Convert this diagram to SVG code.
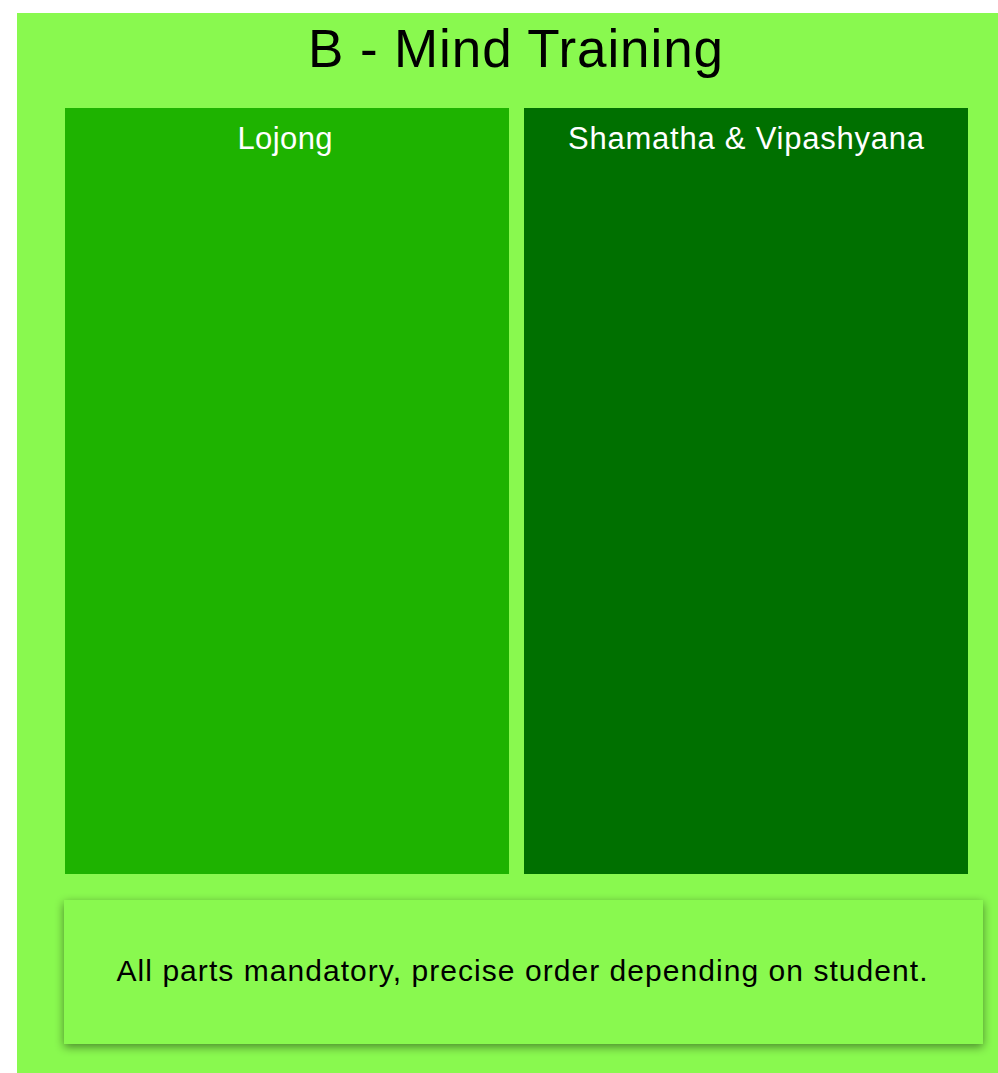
<svg xmlns="http://www.w3.org/2000/svg" width="998" height="1073" viewBox="0 0 998 1073">
<style>
.t{font-family:"Liberation Sans",Arial,Helvetica,sans-serif;text-anchor:middle}
.w{fill:#ffffff;font-size:31px}
.k{fill:#000000}
</style>
<defs>
<filter id="sh" x="-10%" y="-20%" width="120%" height="150%">
<feDropShadow dx="0" dy="3" stdDeviation="5" flood-color="#000000" flood-opacity="0.45"/>
</filter>
</defs>
<rect x="0" y="0" width="998" height="1073" fill="#ffffff"/>
<g id="container">
<rect x="17" y="13" width="981" height="1060" fill="#89F94F"/>
<text class="t k" x="515.5" y="67" font-size="53" textLength="415" lengthAdjust="spacing">B - Mind Training</text>
</g>
<g id="lojong">
<rect x="65" y="108" width="444" height="766" fill="#1EB300"/>
<text class="t w" x="285" y="149" textLength="95" lengthAdjust="spacing">Lojong</text>
</g>
<g id="shamatha">
<rect x="524" y="108" width="444" height="766" fill="#007000"/>
<text class="t w" x="746" y="149" textLength="356" lengthAdjust="spacing">Shamatha &amp; Vipashyana</text>
</g>
<g id="note">
<rect x="64" y="900" width="919" height="144" fill="#89F94F" filter="url(#sh)"/>
<text class="t k" x="522" y="981" font-size="30" textLength="811" lengthAdjust="spacing">All parts mandatory, precise order depending on student.</text>
</g>
<g id="connectors"/>
</svg>
